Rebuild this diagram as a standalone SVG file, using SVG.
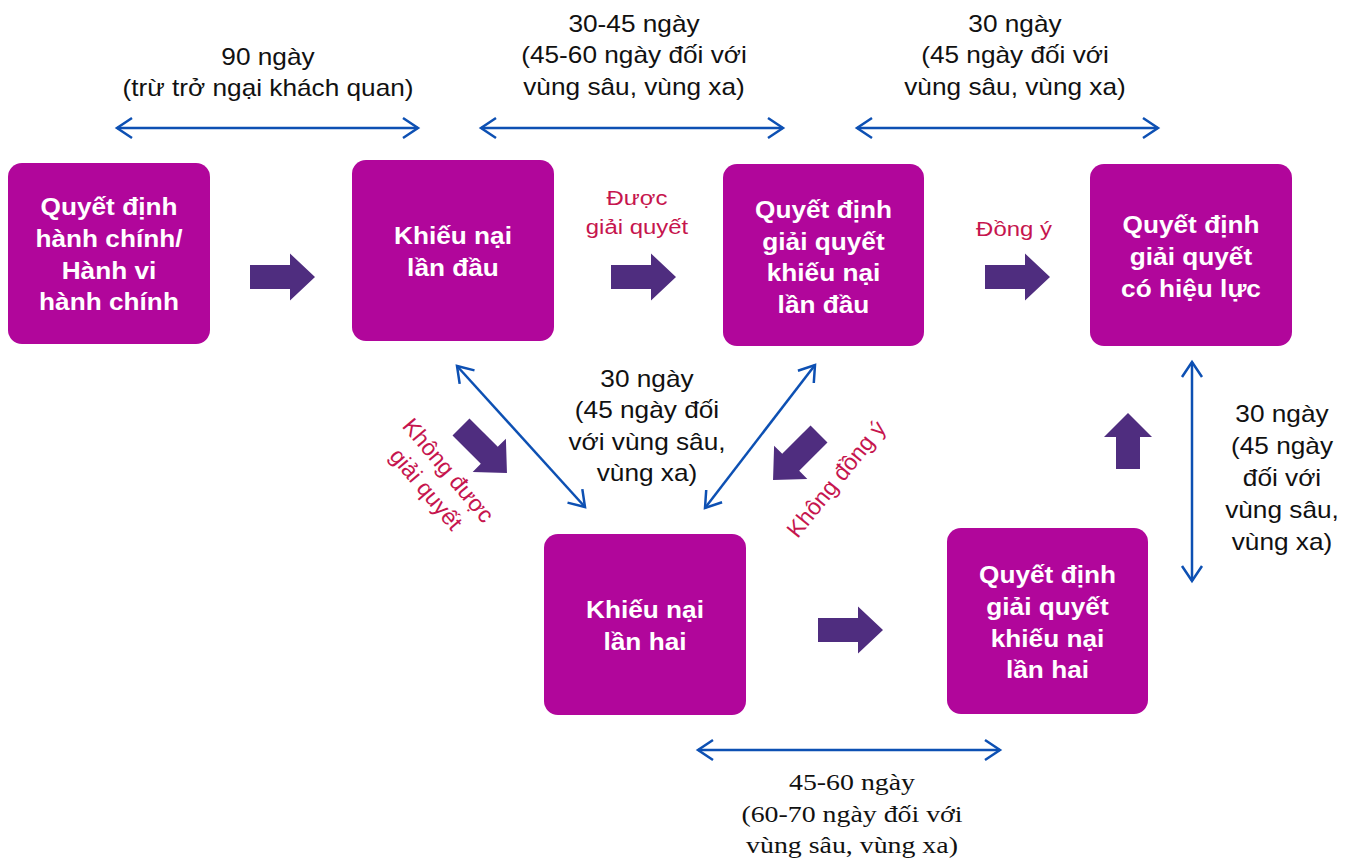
<svg xmlns="http://www.w3.org/2000/svg" xmlns:xlink="http://www.w3.org/1999/xlink" width="1351" height="860" viewBox="0 0 1351 860">
<style>
.box{fill:#B1069B}
.nt{font-family:"Liberation Sans",Arial,sans-serif;font-weight:bold;font-size:23px;fill:#fff;text-anchor:middle}
.lt{font-family:"Liberation Sans",Arial,sans-serif;font-size:23px;fill:#111;text-anchor:middle}
.st{font-family:"Liberation Serif","Times New Roman",serif;font-size:24px;fill:#111;text-anchor:middle}
.rt{font-family:"Liberation Sans",Arial,sans-serif;font-size:21px;fill:#C6154E;text-anchor:middle}
.rr{font-size:23px}
.con{fill:none;stroke:#0D50B3;stroke-width:2.5;marker-start:url(#chev);marker-end:url(#chev)}
.blk{fill:#4F2D7F}
</style>
<defs>
<marker id="chev" markerUnits="userSpaceOnUse" markerWidth="30" markerHeight="30" refX="0" refY="0" viewBox="-20 -15 30 30" orient="auto-start-reverse" overflow="visible">
<path d="M-15,-10 L0,0 L-15,10" fill="none" stroke="#0D50B3" stroke-width="2.5"/>
</marker>
<path id="ba" d="M0,-12 H40 V-23.5 L65,0 L40,23.5 V12 H0 Z"/>
</defs>

<g id="connectors">
<path class="con" d="M117,128 H418"/>
<path class="con" d="M481,128 H783"/>
<path class="con" d="M857,128 H1158"/>
<path class="con" d="M698,750 H1000"/>
<path class="con" d="M1192,362 V581"/>
<path class="con" d="M457,366 L585,507"/>
<path class="con" d="M815,365 L705,508"/>
<use xlink:href="#ba" class="blk" transform="translate(250,277)"/>
<use xlink:href="#ba" class="blk" transform="translate(611,277)"/>
<use xlink:href="#ba" class="blk" transform="translate(985,277)"/>
<use xlink:href="#ba" class="blk" transform="translate(818,630)"/>
<use xlink:href="#ba" class="blk" transform="translate(461,427) rotate(45)"/>
<use xlink:href="#ba" class="blk" transform="translate(819,434) rotate(135)"/>
<path class="blk" d="M1116,469 V437 H1104 L1128,413 L1152,437 H1140 V469 Z"/>
</g>

<g id="n1">
<rect class="box" x="8" y="163" width="202" height="181" rx="14"/>
<text class="nt" transform="translate(109,215) scale(1.14,1)"><tspan x="0" y="0">Quyết định</tspan><tspan x="0" y="32">hành chính/</tspan><tspan x="0" y="64">Hành vi</tspan><tspan x="0" y="95">hành chính</tspan></text>
</g>
<g id="n2">
<rect class="box" x="352" y="160" width="202" height="181" rx="14"/>
<text class="nt" transform="translate(453,244) scale(1.14,1)"><tspan x="0" y="0">Khiếu nại</tspan><tspan x="0" y="32">lần đầu</tspan></text>
</g>
<g id="n3">
<rect class="box" x="723" y="164" width="201" height="182" rx="14"/>
<text class="nt" transform="translate(823.5,218) scale(1.14,1)"><tspan x="0" y="0">Quyết định</tspan><tspan x="0" y="32">giải quyết</tspan><tspan x="0" y="63">khiếu nại</tspan><tspan x="0" y="95">lần đầu</tspan></text>
</g>
<g id="n4">
<rect class="box" x="1090" y="164" width="202" height="182" rx="14"/>
<text class="nt" transform="translate(1191,233) scale(1.14,1)"><tspan x="0" y="0">Quyết định</tspan><tspan x="0" y="32">giải quyết</tspan><tspan x="0" y="64">có hiệu lực</tspan></text>
</g>
<g id="n5">
<rect class="box" x="544" y="534" width="202" height="181" rx="14"/>
<text class="nt" transform="translate(645,618) scale(1.14,1)"><tspan x="0" y="0">Khiếu nại</tspan><tspan x="0" y="32">lần hai</tspan></text>
</g>
<g id="n6">
<rect class="box" x="947" y="528" width="201" height="186" rx="14"/>
<text class="nt" transform="translate(1047.5,583) scale(1.14,1)"><tspan x="0" y="0">Quyết định</tspan><tspan x="0" y="32">giải quyết</tspan><tspan x="0" y="64">khiếu nại</tspan><tspan x="0" y="95">lần hai</tspan></text>
</g>

<g id="labels">
<text class="lt" transform="translate(268,65) scale(1.14,1)"><tspan x="0" y="0">90 ngày</tspan><tspan x="0" y="31">(trừ trở ngại khách quan)</tspan></text>
<text class="lt" transform="translate(634,32) scale(1.14,1)"><tspan x="0" y="0">30-45 ngày</tspan><tspan x="0" y="31">(45-60 ngày đối với</tspan><tspan x="0" y="63">vùng sâu, vùng xa)</tspan></text>
<text class="lt" transform="translate(1015,32) scale(1.14,1)"><tspan x="0" y="0">30 ngày</tspan><tspan x="0" y="31">(45 ngày đối với</tspan><tspan x="0" y="63">vùng sâu, vùng xa)</tspan></text>
<text class="lt" transform="translate(647,387) scale(1.14,1)"><tspan x="0" y="0">30 ngày</tspan><tspan x="0" y="31">(45 ngày đối</tspan><tspan x="0" y="63">với vùng sâu,</tspan><tspan x="0" y="94">vùng xa)</tspan></text>
<text class="lt" transform="translate(1282,422) scale(1.14,1)"><tspan x="0" y="0">30 ngày</tspan><tspan x="0" y="32">(45 ngày</tspan><tspan x="0" y="64">đối với</tspan><tspan x="0" y="96">vùng sâu,</tspan><tspan x="0" y="128">vùng xa)</tspan></text>
<text class="st" transform="translate(852,790) scale(1.16,1)"><tspan x="0" y="0">45-60 ngày</tspan><tspan x="0" y="32">(60-70 ngày đối với</tspan><tspan x="0" y="63">vùng sâu, vùng xa)</tspan></text>
<text class="rt" transform="translate(637,205) scale(1.14,1)"><tspan x="0" y="0">Được</tspan><tspan x="0" y="29">giải quyết</tspan></text>
<text class="rt" transform="translate(1014,236) scale(1.14,1)">Đồng ý</text>
<text class="rt rr" transform="translate(437,480) rotate(50)"><tspan x="0" y="-7">Không được</tspan><tspan x="0" y="22">giải quyết</tspan></text>
<text class="rt rr" transform="translate(836,479) rotate(-51)" y="8">Không đồng ý</text>
</g>
</svg>
